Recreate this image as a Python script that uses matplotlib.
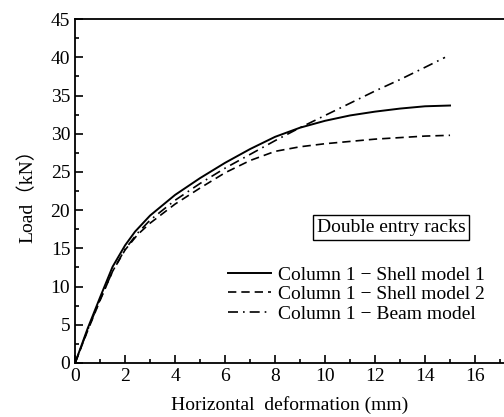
import matplotlib
matplotlib.use("Agg")
import matplotlib.pyplot as plt
from matplotlib.ticker import MultipleLocator

plt.rcParams['font.family'] = ['Liberation Serif', 'Noto Sans CJK SC']

# Column 1 - Shell model 1
x_shell1 = [0, 0.5, 1, 1.5, 2, 2.4, 3, 4, 5, 6, 7, 8, 9, 10, 11, 12, 13, 14, 15]
y_shell1 = [0, 4.5, 8.6, 12.6, 15.4, 17.2, 19.3, 22.0, 24.2, 26.2, 28.0, 29.6, 30.8, 31.7, 32.4, 32.9, 33.3, 33.6, 33.7]

# Column 1 - Shell model 2
x_shell2 = [0, 0.5, 1, 1.5, 2, 2.5, 3, 4, 5, 6, 7, 8, 9, 10, 11, 12, 13, 14, 15]
y_shell2 = [0, 4.2, 8.2, 12.0, 14.8, 16.8, 18.3, 20.8, 22.9, 24.9, 26.5, 27.7, 28.3, 28.7, 29.0, 29.3, 29.5, 29.7, 29.8]

# Column 1 - Beam model
x_beam = [0, 0.5, 1, 1.5, 2, 2.5, 3, 4, 5, 6, 7, 8, 9, 10, 11, 12, 13, 14, 14.8]
y_beam = [0, 4.3, 8.3, 12.0, 14.9, 17.0, 18.7, 21.3, 23.5, 25.5, 27.3, 29.1, 30.8, 32.4, 34.0, 35.6, 37.1, 38.7, 40.0]

fig = plt.figure(figsize=(5.04, 4.17), dpi=100)
ax = fig.add_axes([0.149, 0.1295, 0.853, 0.8245])

ax.plot(x_shell1, y_shell1, color='black', lw=1.4, ls='-', label='Column 1 − Shell model 1')
ax.plot(x_shell2, y_shell2, color='black', lw=1.2, ls=(0, (5, 3)), label='Column 1 − Shell model 2')
ax.plot(x_beam, y_beam, color='black', lw=1.2, ls=(0, (6, 3, 1, 3)), label='Column 1 − Beam model')

ax.set_xlim(0, 17.2)
ax.set_ylim(0, 45)
ax.xaxis.set_major_locator(MultipleLocator(2))
ax.xaxis.set_minor_locator(MultipleLocator(1))
ax.yaxis.set_major_locator(MultipleLocator(5))
ax.yaxis.set_minor_locator(MultipleLocator(2.5))
ax.tick_params(which='both', direction='in', top=False, right=False, labelsize=14, width=1.2)
ax.tick_params(which='major', length=6)
ax.tick_params(which='minor', length=3)
for s in ax.spines.values():
    s.set_linewidth(1.3)

ax.set_xlabel('Horizontal  deformation (mm)', fontsize=14, labelpad=8)
ax.set_ylabel('Load（kN）', fontsize=14, labelpad=10)

ax.text(0.735, 0.395, 'Double entry racks', transform=ax.transAxes, fontsize=14,
        ha='center', va='center',
        bbox=dict(boxstyle='square,pad=0.2', fc='white', ec='black', lw=1))

ax.legend(loc='upper left', bbox_to_anchor=(0.337, 0.305), frameon=False, fontsize=14,
          handlelength=2.2, handletextpad=0.4, labelspacing=0.1, borderaxespad=0)

plt.savefig('out.png', dpi=100)
